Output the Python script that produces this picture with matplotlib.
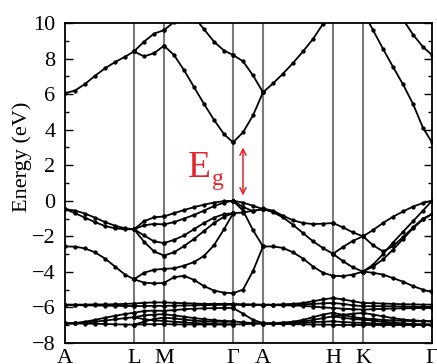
import numpy as np
import matplotlib
matplotlib.use("Agg")
import matplotlib.pyplot as plt

plt.rcParams['font.family'] = ['Liberation Serif', 'DejaVu Serif']

nan = np.nan

# high-symmetry path (path-length units)
kpath_labels = ['A', 'L', 'M', 'Γ', 'A', 'H', 'K', 'Γ']
kpath_pos = [0, 69, 99, 168, 198, 268, 298, 367]

# k grids of each segment
k_AL = [0, 10, 20, 30, 40, 50, 60, 69]
k_LM = [69, 79, 89, 99]
k_MG = [99, 109, 119, 129, 139, 149, 159, 168]
k_GA = [168, 178, 188, 198]
k_AH = [198, 208, 218, 228, 238, 248, 258, 268]
k_HK = [268, 278, 288, 298]
k_KG = [298, 308, 318, 328, 338, 348, 358, 367]

# band energies (eV) on each segment
bands_AL = [
    [6.05, 6.2, 6.57, 7.03, 7.45, 7.8, 8.1, 8.4],
    [-0.47, -0.55, -0.72, -0.95, -1.2, -1.4, -1.55, -1.6],
    [-0.47, -0.7, -0.95, -1.2, -1.42, -1.55, -1.6, -1.6],
    [-2.57, -2.58, -2.68, -2.9, -3.25, -3.7, -4.15, -4.42],
    [-5.84, -5.84, -5.84, -5.83, -5.83, -5.82, -5.8, -5.78],
    [-5.87, -5.87, -5.88, -5.89, -5.9, -5.91, -5.92, -5.92],
    [-6.9, -6.9, -6.91, -6.92, -6.93, -6.95, -6.96, -6.97],
    [-6.9, -6.88, -6.8, -6.7, -6.58, -6.47, -6.37, -6.3],
    [-6.9, -6.9, -6.86, -6.8, -6.74, -6.67, -6.6, -6.55],
]
bands_LM = [
    [8.4, 8.12, 8.3, 8.72],
    [8.4, 8.95, 9.4, 9.6],
    [-1.6, -1.15, -0.93, -0.88],
    [-1.6, -1.38, -1.3, -1.33],
    [-1.6, -1.95, -2.28, -2.38],
    [-1.6, -2.3, -2.85, -3.08],
    [-4.42, -4.05, -3.88, -3.83],
    [-4.42, -4.6, -4.65, -4.62],
    [-5.78, -5.74, -5.72, -5.72],
    [-5.92, -5.92, -5.91, -5.91],
    [-6.3, -6.2, -6.18, -6.19],
    [-6.55, -6.45, -6.4, -6.38],
    [-6.55, -6.66, -6.73, -6.76],
    [-6.97, -6.95, -6.94, -6.94],
    [-6.97, -6.8, -6.65, -6.57],
]
bands_MG = [
    [8.72, 8.2, 7.35, 6.4, 5.45, 4.55, 3.75, 3.28],
    [9.6, 10.05, 10.5, nan, nan, nan, nan, nan],
    [nan, nan, nan, 10.35, 9.65, 8.95, 8.45, 8.2],
    [-0.88, -0.7, -0.52, -0.36, -0.22, -0.1, -0.02, 0.0],
    [-1.33, -1.2, -1.0, -0.8, -0.55, -0.3, -0.1, 0.0],
    [-2.38, -2.2, -1.95, -1.6, -1.25, -0.95, -0.75, -0.7],
    [-3.08, -2.9, -2.55, -2.15, -1.7, -1.25, -0.9, -0.7],
    [-3.83, -3.8, -3.65, -3.45, -3.1, -2.5, -1.6, -0.72],
    [-4.62, -4.3, -4.22, -4.45, -4.8, -5.05, -5.17, -5.2],
    [-5.72, -5.74, -5.76, -5.78, -5.8, -5.8, -5.8, -5.8],
    [-5.91, -5.9, -5.89, -5.88, -5.87, -5.86, -5.85, -5.85],
    [-6.19, -6.15, -6.1, -6.07, -6.05, -6.04, -6.03, -6.03],
    [-6.38, -6.45, -6.52, -6.6, -6.66, -6.72, -6.76, -6.78],
    [-6.57, -6.62, -6.68, -6.74, -6.78, -6.8, -6.8, -6.8],
    [-6.76, -6.8, -6.84, -6.88, -6.9, -6.93, -6.95, -6.95],
    [-6.94, -6.95, -6.96, -6.96, -6.96, -6.96, -6.96, -6.96],
]
bands_GA = [
    [3.28, 3.85, 4.8, 6.1],
    [8.2, 7.85, 7.05, 6.1],
    [0.0, -0.1, -0.28, -0.47],
    [0.0, -0.35, -0.58, -0.47],
    [-0.7, -0.66, -0.56, -0.47],
    [0.0, -0.55, -1.65, -2.57],
    [-5.2, -5.0, -3.95, -2.57],
    [-5.8, -5.82, -5.83, -5.84],
    [-5.85, -5.86, -5.86, -5.87],
    [-6.03, -6.35, -6.7, -6.88],
    [-6.78, -6.84, -6.88, -6.9],
    [-6.96, -6.94, -6.92, -6.91],
]
bands_AH = [
    [6.1, 6.6, 7.15, 7.75, 8.4, 9.1, 9.95, 10.75],
    [-0.43, -0.56, -0.84, -1.1, -1.25, -1.31, -1.29, -1.25],
    [-0.47, -0.64, -0.94, -1.35, -1.82, -2.28, -2.66, -2.98],
    [-2.57, -2.57, -2.65, -2.9, -3.25, -3.7, -4.05, -4.22],
    [-5.84, -5.84, -5.83, -5.8, -5.75, -5.65, -5.55, -5.47],
    [-5.86, -5.86, -5.85, -5.84, -5.82, -5.8, -5.77, -5.75],
    [-5.87, -5.87, -5.88, -5.89, -5.91, -5.95, -6.0, -6.03],
    [-6.9, -6.88, -6.85, -6.8, -6.7, -6.55, -6.4, -6.3],
    [-6.9, -6.9, -6.88, -6.85, -6.8, -6.7, -6.6, -6.5],
    [-6.91, -6.9, -6.9, -6.88, -6.86, -6.83, -6.8, -6.78],
    [-6.92, -6.93, -6.93, -6.94, -6.95, -6.96, -6.97, -6.97],
]
bands_HK = [
    [-1.25, -1.5, -1.78, -2.0],
    [-2.98, -2.6, -2.25, -2.0],
    [-2.98, -3.4, -3.75, -3.98],
    [-4.22, -4.24, -4.15, -3.98],
    [-5.47, -5.55, -5.65, -5.75],
    [-5.75, -5.8, -5.88, -5.93],
    [-6.03, -6.07, -6.1, -6.12],
    [-6.3, -6.42, -6.54, -6.62],
    [-6.5, -6.42, -6.35, -6.31],
    [-6.5, -6.58, -6.65, -6.69],
    [-6.78, -6.82, -6.85, -6.87],
    [-6.97, -6.97, -6.97, -6.97],
]
bands_KG = [
    [10.65, 9.6, 8.55, 7.53, 6.55, 5.45, 4.1, 3.28],
    [nan, nan, nan, nan, 10.2, 9.35, 8.65, 8.2],
    [-2.0, -1.65, -1.25, -0.9, -0.6, -0.33, -0.12, 0.0],
    [-2.0, -2.5, -2.85, -2.55, -2.05, -1.5, -1.0, -0.75],
    [-3.98, -3.6, -3.0, -2.35, -1.75, -1.15, -0.55, 0.0],
    [-3.98, -3.7, -3.3, -2.75, -2.15, -1.55, -1.05, -0.75],
    [-3.98, -4.05, -4.15, -4.35, -4.55, -4.8, -5.0, -5.15],
    [-5.75, -5.76, -5.78, -5.8, -5.82, -5.83, -5.84, -5.84],
    [-5.93, -5.93, -5.93, -5.94, -5.95, -5.96, -5.97, -5.97],
    [-6.12, -6.1, -6.08, -6.06, -6.05, -6.04, -6.03, -6.03],
    [-6.31, -6.4, -6.5, -6.6, -6.68, -6.73, -6.76, -6.78],
    [-6.62, -6.66, -6.7, -6.73, -6.75, -6.77, -6.78, -6.78],
    [-6.69, -6.74, -6.8, -6.85, -6.9, -6.93, -6.95, -6.96],
    [-6.87, -6.9, -6.92, -6.94, -6.95, -6.96, -6.96, -6.96],
    [-6.97, -6.97, -6.97, -6.97, -6.97, -6.97, -6.97, -6.97],
]

gap_k = 178
gap_bottom = 0.3
gap_top = 3.0

segments = [(k_AL, bands_AL), (k_LM, bands_LM), (k_MG, bands_MG),
            (k_GA, bands_GA), (k_AH, bands_AH), (k_HK, bands_HK),
            (k_KG, bands_KG)]

W, H = 437, 364
fig = plt.figure(figsize=(W / 100, H / 100), dpi=100)
ax = fig.add_axes([65 / W, 21 / H, (432 - 65) / W, (343 - 23) / H])

for kpos in kpath_pos[1:-1]:
    ax.axvline(kpos, color='#7a7a7a', lw=1.5, zorder=1)

for kgrid, bands in segments:
    for e in bands:
        ax.plot(kgrid, e, '-', color='black', lw=1.3, marker='o', ms=3.1,
                mew=0, zorder=3)

red = '#e5232b'
ax.annotate('', xy=(gap_k, gap_top), xytext=(gap_k, gap_bottom),
            arrowprops=dict(arrowstyle='<->', color=red, lw=1.1,
                            shrinkA=0, shrinkB=0, mutation_scale=11),
            zorder=5)
ax.text(134, 1.85, 'E', fontsize=27, color=red, ha='center', va='center')
ax.text(153, 1.2, 'g', fontsize=17, color=red, ha='center', va='center')

ax.set_xlim(kpath_pos[0], kpath_pos[-1])
ax.set_ylim(-8, 10)
ax.set_xticks(kpath_pos)
ax.set_xticklabels(kpath_labels)
ax.set_yticks(np.arange(-8, 11, 2))
ax.set_yticks(np.arange(-8, 11, 1), minor=True)
ax.tick_params(axis='y', which='both', direction='in', left=True, right=True,
               labelsize=16, pad=7)
ax.tick_params(axis='y', which='major', length=6, width=1)
ax.tick_params(axis='y', which='minor', length=3, width=1)
ax.tick_params(axis='x', which='both', length=0, labelsize=16, pad=4)
for s in ax.spines.values():
    s.set_linewidth(1.3)
    s.set_color('black')

fig.text(22 / W, 1 - 157 / H, 'Energy (eV)', rotation=90, fontsize=16,
         ha='center', va='center')

fig.savefig('out.png', dpi=100)
